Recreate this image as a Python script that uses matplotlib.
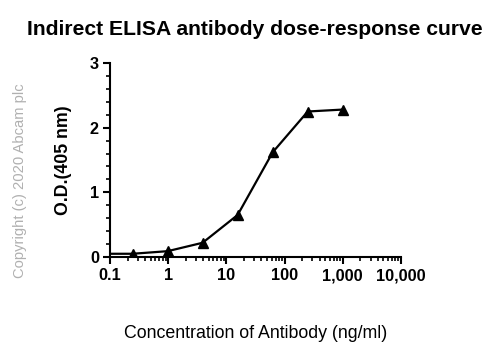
import matplotlib
matplotlib.use("Agg")
import matplotlib.pyplot as plt
from matplotlib.ticker import FixedLocator, MultipleLocator, LogLocator, NullFormatter

plt.rcParams['font.family'] = ['Liberation Sans', 'DejaVu Sans']

# concentration (ng/ml) and O.D. 405 nm
conc = [0.244, 0.977, 3.9, 15.6, 62.5, 250, 1000]
od = [0.05, 0.09, 0.22, 0.65, 1.62, 2.25, 2.28]
# line starts at the left edge of the axis
line_x = [0.1] + conc
line_y = [0.05] + od

xticks = [0.1, 1, 10, 100, 1000, 10000]
xlabels = ["0.1", "1", "10", "100", "1,000", "10,000"]
yticks = [0, 1, 2, 3]

fig = plt.figure(figsize=(4.99, 3.52), dpi=100)
ax = fig.add_axes([110/499, 1 - 257/352, (401-110)/499, (257-63)/352])

ax.plot(line_x, line_y, color="black", lw=1.6)
ax.plot(conc, od, linestyle="none", marker="^", color="black", markersize=6.5)

ax.set_xscale("log")
ax.set_xlim(0.1, 10000)
ax.set_ylim(0, 3)
ax.xaxis.set_major_locator(FixedLocator(xticks))
ax.set_xticklabels(xlabels)
ax.xaxis.set_minor_locator(LogLocator(base=10, subs=range(2, 10)))
ax.xaxis.set_minor_formatter(NullFormatter())
ax.set_yticks(yticks)
ax.yaxis.set_minor_locator(MultipleLocator(0.2))

for s in ["top", "right"]:
    ax.spines[s].set_visible(False)
for s in ["left", "bottom"]:
    ax.spines[s].set_linewidth(1.5)
ax.tick_params(which="major", length=5, width=1.5, labelsize=11.7, pad=3)
ax.tick_params(which="minor", length=3, width=1.2)
for lab in ax.get_xticklabels() + ax.get_yticklabels():
    lab.set_fontweight("bold")

ax.set_ylabel("O.D.(405 nm)", fontsize=12.8, fontweight="bold", labelpad=13)
ax.set_xlabel("Concentration of Antibody (ng/ml)", fontsize=12.8, labelpad=30)
fig.text(255/499, 1 - 35/352, "Indirect ELISA antibody dose-response curve", ha="center",
         va="baseline", fontsize=15.2, fontweight="bold")
fig.text(20/499, 1 - 181/352, "Copyright (c) 2020 Abcam plc", rotation=90, ha="center",
         va="center", fontsize=10.6, color="#b0b0b0")

fig.savefig("out.png", dpi=100)
